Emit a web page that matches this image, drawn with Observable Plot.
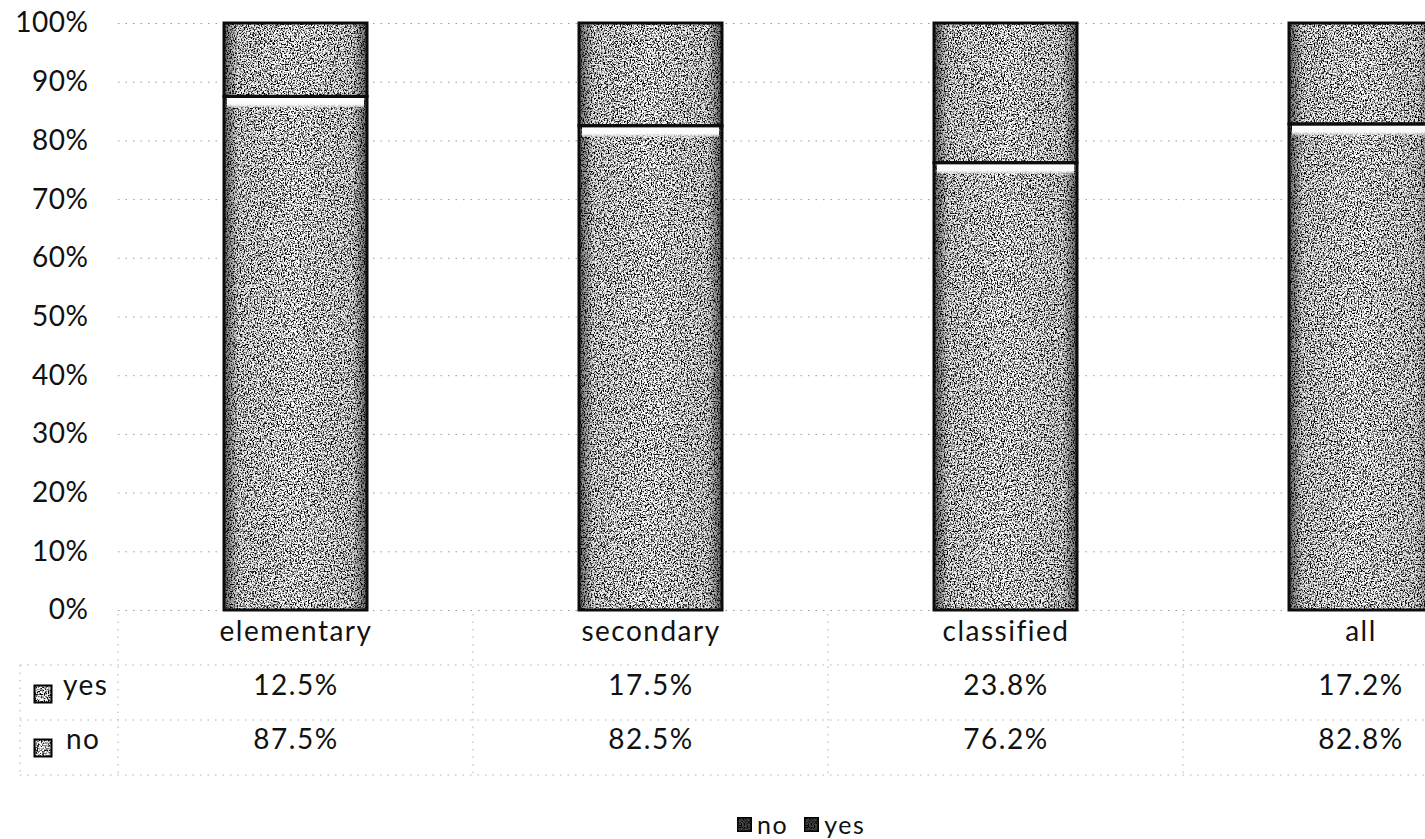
<!DOCTYPE html>
<html>
<head>
<meta charset="utf-8">
<script src="https://cdn.jsdelivr.net/npm/d3@7"></script>
<script src="https://cdn.jsdelivr.net/npm/@observablehq/plot@0.6"></script>
<style>
  html, body { margin: 0; padding: 0; background: #fff; overflow: hidden; }
  #chart { position: relative; width: 1425px; height: 839px; font-family: Lato, "Open Sans", sans-serif; color: #111; }
  #legend { position: absolute; left: 737px; top: 810px; display: flex; align-items: center; gap: 16px; font-size: 25px; letter-spacing: 1.5px; line-height: 28px; }
  #legend .item { display: flex; align-items: center; gap: 5px; }
  #legend svg { display: block; }
</style>
</head>
<body>
<div id="chart"></div>
<script>
// Share of staff answering yes / no, by group
const categories = ["elementary", "secondary", "classified", "all"];
const seriesNames = ["no", "yes"];
const noValues = [87.5, 82.5, 76.2, 82.8];
const yesValues = [12.5, 17.5, 23.8, 17.2];
const yTicks = [0, 10, 20, 30, 40, 50, 60, 70, 80, 90, 100];

const noRows = categories.map((c, i) => ({category: c, series: "no", value: noValues[i], y1: 0, y2: noValues[i]}));
const yesRows = categories.map((c, i) => ({category: c, series: "yes", value: yesValues[i], y1: noValues[i], y2: noValues[i] + yesValues[i]}));
const stacked = [...noRows, ...yesRows];

const fmt = v => `${v.toFixed(1)}%`;

const chart = Plot.plot({
  width: 1425,
  height: 805,
  marginTop: 23,
  marginBottom: 195,
  marginLeft: 118,
  marginRight: 0,
  style: {fontFamily: "Lato, 'Open Sans', sans-serif", fontSize: "28px", color: "#111", background: "white"},
  x: {domain: categories, range: [12.5, 1644.5], padding: 0.597, axis: null},
  y: {domain: [0, 100], ticks: yTicks, tickSize: 0, tickPadding: 30, tickFormat: d => `${d}%`, label: null},
  marks: [
    Plot.ruleY(yTicks, {stroke: "#999", strokeWidth: 1, strokeDasharray: "1.5,6"}),
    // textured bar fills
    Plot.barY(stacked, {x: "category", y1: "y1", y2: "y2", fill: "url(#barShade)"}),
    // light bevel along the top of each "no" segment
    Plot.barY(noRows, {x: "category", y1: d => d.y2 - 1.9, y2: "y2", fill: "url(#bevel)", insetLeft: 3, insetRight: 3}),
    // outlines
    Plot.barY(stacked, {x: "category", y1: "y1", y2: "y2", fill: "none", stroke: "#0c0c0c", strokeWidth: 3}),
    // data table under the axis
    Plot.text(categories, {x: d => d, text: d => d, frameAnchor: "bottom", dy: 30, fontSize: 28}),
    Plot.text(yesRows, {x: "category", text: d => fmt(d.value), frameAnchor: "bottom", dy: 84, fontSize: 28}),
    Plot.text(noRows, {x: "category", text: d => fmt(d.value), frameAnchor: "bottom", dy: 138, fontSize: 28}),
    Plot.text(["yes"], {text: d => d, frameAnchor: "bottom-left", dx: -10, dy: 84, textAnchor: "end", fontSize: 28}),
    Plot.text(["no"], {text: d => d, frameAnchor: "bottom-left", dx: -18, dy: 138, textAnchor: "end", fontSize: 28})
  ]
});

document.getElementById("chart").appendChild(chart);

const svg = d3.select(chart);
const defs = svg.insert("defs", ":first-child");

// speckled, dithered grey texture
const f = defs.append("filter").attr("id", "grain")
  .attr("x", "0%").attr("y", "0%").attr("width", "100%").attr("height", "100%")
  .attr("color-interpolation-filters", "sRGB");
f.append("feTurbulence").attr("type", "fractalNoise").attr("baseFrequency", 0.7)
  .attr("numOctaves", 2).attr("seed", 5).attr("result", "noise");
f.append("feColorMatrix").attr("in", "noise").attr("type", "matrix")
  .attr("values", "0.33 0.33 0.33 0 0  0.33 0.33 0.33 0 0  0.33 0.33 0.33 0 0  0 0 0 0 1")
  .attr("result", "gray");
const ct = f.append("feComponentTransfer").attr("in", "gray").attr("result", "contrast");
["feFuncR", "feFuncG", "feFuncB"].forEach(n => ct.append(n).attr("type", "linear").attr("slope", 8).attr("intercept", -3.2));
f.append("feBlend").attr("in", "contrast").attr("in2", "SourceGraphic").attr("mode", "multiply").attr("result", "mix");
f.append("feComposite").attr("in", "mix").attr("in2", "SourceGraphic").attr("operator", "in");

const g = defs.append("linearGradient").attr("id", "barShade").attr("x1", "0").attr("x2", "1").attr("y1", "0").attr("y2", "0");
[[0, "#6a6a6a"], [0.1, "#e8e8e8"], [0.5, "#ffffff"], [0.9, "#e4e4e4"], [1, "#666"]]
  .forEach(([o, c]) => g.append("stop").attr("offset", o).attr("stop-color", c));

const bv = defs.append("linearGradient").attr("id", "bevel").attr("x1", "0").attr("x2", "0").attr("y1", "0").attr("y2", "1");
[[0, "#ffffff", 1], [0.7, "#fafafa", 1], [1, "#e0e0e0", 0.55]]
  .forEach(([o, c, a]) => bv.append("stop").attr("offset", o).attr("stop-color", c).attr("stop-opacity", a));

const barGroups = svg.selectAll('g[aria-label="bar"]').nodes();
if (barGroups.length) d3.select(barGroups[0]).attr("filter", "url(#grain)");

// wider tracking for the labels
svg.selectAll('g[aria-label="text"]').attr("letter-spacing", "1.5px");
svg.selectAll('g[aria-label="y-axis tick label"], g[aria-label="y-axis"]').attr("letter-spacing", "0.5px");

// table grid lines, placed from the chart's own scales
const xs = chart.scale("x");
const ys = chart.scale("y");
const centers = categories.map(c => xs.apply(c) + xs.bandwidth / 2);
const step = centers[1] - centers[0];
const base = ys.apply(0);
const rowH = 55;
const lines = svg.append("g").attr("stroke", "#b0b0b0").attr("stroke-dasharray", "1.5,6").attr("fill", "none");
centers.forEach(c => {
  lines.append("line").attr("x1", c - step / 2).attr("x2", c - step / 2).attr("y1", base + 4).attr("y2", base + 3 * rowH);
});
for (let r = 1; r <= 3; r++) {
  lines.append("line").attr("x1", 20).attr("x2", 1425).attr("y1", base + r * rowH).attr("y2", base + r * rowH);
}
lines.append("line").attr("x1", 20).attr("x2", 20).attr("y1", base + rowH).attr("y2", base + 3 * rowH);

// swatches beside the row labels
const sw = svg.append("g");
[["yes", 84], ["no", 138]].forEach(([name, dy]) => {
  sw.append("rect").attr("x", 34).attr("y", base + dy - 9).attr("width", 18).attr("height", 18)
    .attr("fill", "url(#barShade)").attr("filter", "url(#grain)");
  sw.append("rect").attr("x", 34.5).attr("y", base + dy - 8.5).attr("width", 17).attr("height", 17)
    .attr("fill", "none").attr("stroke", "#000").attr("stroke-width", 2);
});

// legend
const legend = d3.select("#chart").append("div").attr("id", "legend");
seriesNames.forEach(name => {
  const item = legend.append("div").attr("class", "item");
  const s = item.append("svg").attr("width", 15).attr("height", 15);
  s.append("rect").attr("width", 15).attr("height", 15).attr("fill", "#444").attr("filter", "url(#grain)");
  s.append("rect").attr("x", 0.75).attr("y", 0.75).attr("width", 13.5).attr("height", 13.5)
    .attr("fill", "none").attr("stroke", "#000").attr("stroke-width", 1.5);
  item.append("span").text(name);
});
</script>
</body>
</html>
